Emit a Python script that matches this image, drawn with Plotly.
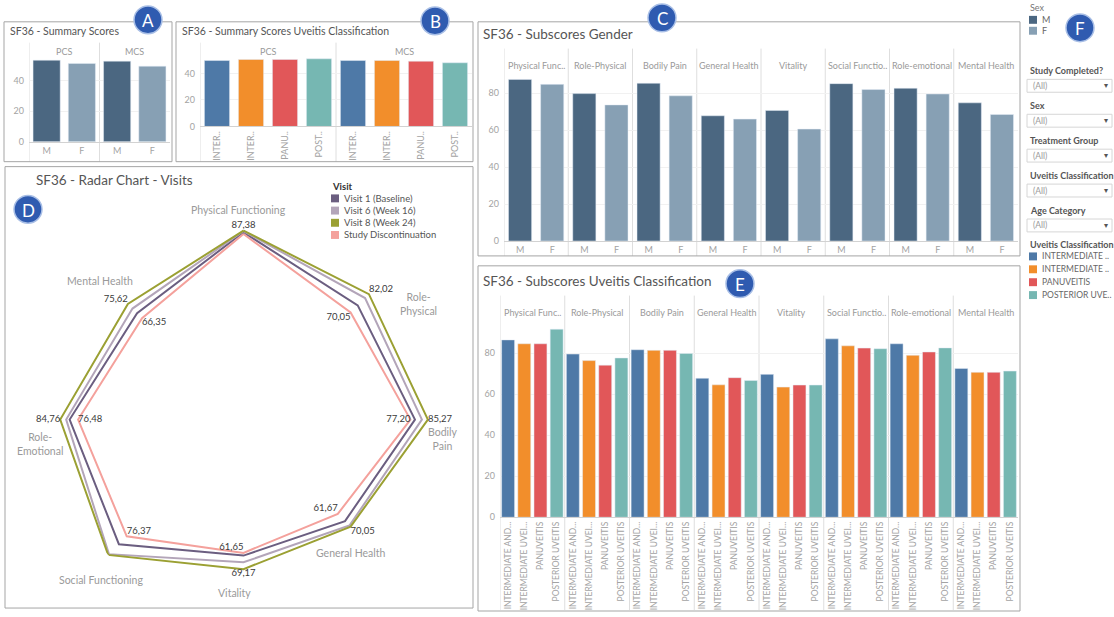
import plotly.graph_objects as go

W, H = 1114, 617


def px(x):
    return x / W


def py(y):
    return 1 - y / H


FONT = "Lato"

# ---------------- data ----------------
sexes = ["M", "F"]
summary_scales = ["PCS", "MCS"]
summary_m = [53.1, 52.5]          # PCS, MCS
summary_f = [51.0, 49.2]

uveitis_groups = ["INTERMEDIATE AND POSTERIOR UVEITIS", "INTERMEDIATE UVEITIS",
                  "PANUVEITIS", "POSTERIOR UVEITIS"]
uveitis_short = ["INTER..", "INTER..", "PANU..", "POST.."]
uveitis_tick = ["INTERMEDIATE AND…", "INTERMEDIATE UVEI…", "PANUVEITIS", "POSTERIOR UVEITIS"]
uveitis_legend = ["INTERMEDIATE ..", "INTERMEDIATE ..", "PANUVEITIS", "POSTERIOR UVE.."]
summary_uveitis_pcs = [49.8, 50.6, 50.6, 51.1]
summary_uveitis_mcs = [49.8, 49.8, 49.3, 48.1]

subscales = ["Physical Functioning", "Role-Physical", "Bodily Pain", "General Health",
             "Vitality", "Social Functioning", "Role-emotional", "Mental Health"]
subscale_headers = ["Physical Func..", "Role-Physical", "Bodily Pain", "General Health",
                    "Vitality", "Social Functio..", "Role-emotional", "Mental Health"]
subscores_m = [87.5, 79.8, 85.4, 67.8, 70.7, 85.2, 82.7, 74.8]
subscores_f = [84.8, 73.7, 78.6, 66.0, 60.6, 82.0, 79.6, 68.5]

subscores_int_post = [86.4, 79.5, 81.6, 67.7, 69.6, 86.9, 84.5, 72.5]
subscores_intermediate = [84.5, 76.3, 81.3, 64.5, 63.4, 83.5, 78.9, 70.6]
subscores_panuveitis = [84.5, 74.1, 81.3, 68.0, 64.4, 82.4, 80.5, 70.6]
subscores_posterior = [91.6, 77.6, 79.8, 66.6, 64.4, 82.1, 82.5, 71.2]
subscores_uveitis = [subscores_int_post, subscores_intermediate,
                     subscores_panuveitis, subscores_posterior]

radar_axes = ["Physical Functioning", "Role-Physical", "Bodily Pain", "General Health",
              "Vitality", "Social Functioning", "Role-Emotional", "Mental Health"]
visit_names = ["Visit 1 (Baseline)", "Visit 6 (Week 16)", "Visit 8 (Week 24)",
               "Study Discontinuation"]
visit1 = [86.6, 74.7, 79.3, 66.4, 62.9, 81.5, 80.4, 69.6]
visit6 = [87.2, 79.5, 82.5, 69.3, 66.0, 88.0, 82.0, 72.6]
visit8 = [87.38, 82.02, 85.27, 70.05, 69.17, 88.54, 84.76, 75.62]
discontinuation = [85.8, 70.05, 77.20, 61.67, 61.65, 76.37, 76.48, 66.35]

filter_titles = ["Study Completed?", "Sex", "Treatment Group", "Uveitis Classification",
                 "Age Category"]

# ---------------- styles ----------------
sex_colors = {"M": "#4b6781", "F": "#87a0b4"}
uveitis_colors = ["#4e79a7", "#f28e2b", "#e15759", "#76b7b2"]
visit_colors = ["#6b5e80", "#b3a5b9", "#9ba033", "#f4a19c"]
TICK_GRAY = "#a3a3a3"
LABEL_GRAY = "#9a9a9a"
DIVIDER = "#dedede"

fig = go.Figure()
shapes = []
annotations = []


def note(x, y, text, size=9, color="#555", anchor="left", bold=False, family=FONT, **kw):
    if bold:
        text = f"<b>{text}</b>"
    annotations.append(dict(x=px(x), y=py(y), xref="paper", yref="paper", text=text,
                            showarrow=False, xanchor=anchor, yanchor="middle",
                            font=dict(size=size, color=color, family=family), **kw))


def box(x0, y0, x1, y1, color="#a5a5a5", width=1, fill=None):
    shapes.append(dict(type="rect", xref="paper", yref="paper", x0=px(x0), x1=px(x1),
                       y0=py(y1), y1=py(y0), line=dict(color=color, width=width),
                       fillcolor=fill if fill else "rgba(0,0,0,0)", layer="below"))


def badge(cx, cy, letter, r=14):
    shapes.append(dict(type="circle", xref="paper", yref="paper",
                       x0=px(cx - r), x1=px(cx + r), y0=py(cy + r), y1=py(cy - r),
                       fillcolor="#2f5bb0", line=dict(color="#a9bfe6", width=1.5),
                       layer="above"))
    note(cx, cy + 1, letter, size=17, color="white", anchor="center")


def dividers(xref, positions, top, bottom):
    for xv in positions:
        shapes.append(dict(type="line", xref=xref, yref="paper", x0=xv, x1=xv,
                           y0=py(bottom), y1=py(top), line=dict(color=DIVIDER, width=1),
                           layer="below"))


def headers(xref, centers, labels, y, size=9):
    for xv, lab in zip(centers, labels):
        annotations.append(dict(x=xv, y=py(y), xref=xref, yref="paper", text=lab,
                                showarrow=False, xanchor="center", yanchor="middle",
                                font=dict(size=size, color=LABEL_GRAY, family=FONT)))


# ---------------- A: summary scores by sex ----------------
a_keys = [f"{s}|{x}" for s in summary_scales for x in sexes]
for sex, vals in zip(sexes, [summary_m, summary_f]):
    fig.add_trace(go.Bar(x=[f"{s}|{sex}" for s in summary_scales], y=vals,
                         marker_color=sex_colors[sex], width=0.77, name=sex,
                         showlegend=False, xaxis="x", yaxis="y"))
headers("x", [0.5, 2.5], summary_scales, 52)
dividers("x", [-0.5, 1.5], 43, 163)

# ---------------- B: summary scores by uveitis classification ----------------
b_keys = [f"{s}|{g}" for s in summary_scales for g in uveitis_groups]
for i, g in enumerate(uveitis_groups):
    fig.add_trace(go.Bar(x=[f"{s}|{g}" for s in summary_scales],
                         y=[summary_uveitis_pcs[i], summary_uveitis_mcs[i]],
                         marker_color=uveitis_colors[i], width=0.74, name=g,
                         showlegend=False, xaxis="x2", yaxis="y2"))
headers("x2", [1.5, 5.5], summary_scales, 52)
dividers("x2", [-0.5, 3.5], 43, 163)

# ---------------- C: subscores by sex ----------------
c_keys = [f"{s}|{x}" for s in subscales for x in sexes]
for sex, vals in zip(sexes, [subscores_m, subscores_f]):
    fig.add_trace(go.Bar(x=[f"{s}|{sex}" for s in subscales], y=vals,
                         marker_color=sex_colors[sex], width=0.72, name=sex,
                         showlegend=False, xaxis="x3", yaxis="y3"))
headers("x3", [2 * i + 0.5 for i in range(len(subscales))], subscale_headers, 66)
dividers("x3", [2 * i - 0.5 for i in range(len(subscales))], 49, 258)

# ---------------- E: subscores by uveitis classification ----------------
e_keys = [f"{s}|{g}" for s in subscales for g in uveitis_groups]
for i, g in enumerate(uveitis_groups):
    fig.add_trace(go.Bar(x=[f"{s}|{g}" for s in subscales], y=subscores_uveitis[i],
                         marker_color=uveitis_colors[i], width=0.8, name=g,
                         showlegend=False, xaxis="x4", yaxis="y4"))
headers("x4", [4 * i + 1.5 for i in range(len(subscales))], subscale_headers, 315)
dividers("x4", [4 * i - 0.5 for i in range(len(subscales))], 298, 615)

# ---------------- D: radar chart of visits ----------------
def fmt(v):
    return f"{v:.2f}".replace(".", ",")


visit8_pos = ["top center", "top right", "middle right", "bottom right",
              "bottom center", "bottom right", "middle left", "top left"]
disc_pos = ["top center", "bottom left", "middle left", "top left",
            "top left", "top right", "middle right", "bottom right"]
radar_series = [visit1, visit6, visit8, discontinuation]
for name, vals, col in zip(visit_names, radar_series, visit_colors):
    if vals is visit8:
        text = [fmt(v) for v in vals] + [""]
        pos = visit8_pos + ["top center"]
    elif vals is discontinuation:
        text = [""] + [fmt(v) for v in vals[1:]] + [""]
        pos = disc_pos + ["top center"]
    else:
        text = [""] * (len(vals) + 1)
        pos = ["top center"] * (len(vals) + 1)
    fig.add_trace(go.Scatterpolar(r=vals + vals[:1], theta=radar_axes + radar_axes[:1],
                                  mode="lines+text", line=dict(color=col, width=2),
                                  text=text, textposition=pos, cliponaxis=False,
                                  textfont=dict(size=9.5, color="#3a3a3a", family=FONT),
                                  name=name, showlegend=False))

radar_cx, radar_cy, radar_R = 243.5, 423, 193
radar_px_per_unit = 2.18

# radar axis names
for lab, (lx, ly) in zip(["Physical Functioning", "Role-<br>Physical", "Bodily<br>Pain",
                          "General Health", "Vitality", "Social Functioning",
                          "Role-<br>Emotional", "Mental Health"],
                         [(238, 212), (418, 306), (443, 443), (351, 558), (234, 598),
                          (101, 585), (40, 448), (100, 283)]):
    note(lx, ly, lab, size=10.5, color=LABEL_GRAY, anchor="center")

# radar legend
note(330, 188, "Visit", size=9.5, color="#333", bold=True)
for i, (name, col) in enumerate(zip(visit_names, visit_colors)):
    yy = 200 + i * 12.3
    shapes.append(dict(type="rect", xref="paper", yref="paper", x0=px(331), x1=px(339),
                       y0=py(yy + 4), y1=py(yy - 4), fillcolor=col, line=dict(width=0)))
    note(342, yy, name, size=9.5, color="#555")

# ---------------- panel frames and titles ----------------
box(4, 22, 172, 163)
box(176, 22, 473, 163)
box(5, 168, 473, 613)
box(478, 22, 1020, 258)
box(478, 268, 1020, 616)

note(8, 31, "SF36 - Summary Scores", size=10.5, color="#555")
note(180, 31, "SF36 - Summary Scores Uveitis Classification", size=10.5, color="#555")
note(34, 181, "SF36 - Radar Chart - Visits", size=13.5, color="#555")
note(481, 34, "SF36 - Subscores Gender", size=13.5, color="#555")
note(481, 283, "SF36 - Subscores Uveitis Classification", size=13.5, color="#555")

# ---------------- sidebar: legends and filters ----------------
note(1028, 8, "Sex", size=9, color="#777")
for i, sex in enumerate(sexes):
    yy = 20 + i * 11
    shapes.append(dict(type="rect", xref="paper", yref="paper", x0=px(1029), x1=px(1037),
                       y0=py(yy + 4), y1=py(yy - 4), fillcolor=sex_colors[sex],
                       line=dict(width=0)))
    note(1040, yy, sex, size=9, color="#666")

for i, title in enumerate(filter_titles):
    ty = 71 + i * 35.2
    note(1028, ty, title, size=9, color="#555", bold=True)
    box(1027, ty + 9, 1112, ty + 22, color="#d6d6d6")
    note(1031, ty + 15.5, "(All)", size=8.5, color="#9a9a9a")
    note(1106, ty + 15.5, "▾", size=8, color="#555", anchor="center", family="DejaVu Sans")

note(1028, 246, "Uveitis Classification", size=9, color="#555", bold=True)
for i, (lab, col) in enumerate(zip(uveitis_legend, uveitis_colors)):
    yy = 258.5 + i * 13
    shapes.append(dict(type="rect", xref="paper", yref="paper", x0=px(1029), x1=px(1037),
                       y0=py(yy + 4), y1=py(yy - 4), fillcolor=col, line=dict(width=0)))
    note(1040, yy, lab, size=8.5, color="#666")

# ---------------- badges ----------------
badge(148, 20, "A")
badge(435, 21, "B")
badge(662, 18, "C")
badge(28, 211, "D")
badge(740, 286, "E")
badge(1080, 28, "F")

# ---------------- axes ----------------
xbase = dict(type="category", showgrid=False, zeroline=False, showline=True,
             linecolor="#d2d2d2", linewidth=1, ticks="", fixedrange=True,
             tickfont=dict(size=9, color=TICK_GRAY, family=FONT), tickmode="array",
             categoryorder="array")
ybase = dict(showgrid=True, gridcolor="#f1f1f1", zeroline=False, showline=False,
             ticks="", fixedrange=True, tickmode="array", ticklabelstandoff=4,
             tickfont=dict(size=9, color=TICK_GRAY, family=FONT))

a_top, a_base, a_scale = 57, 143, 1.55
b_top, b_base, b_scale = 57, 127.5, 1.335
c_top, c_base, c_scale = 74, 243, 1.8625
e_top, e_base, e_scale = 326, 521.5, 2.07

fig.update_layout(
    width=W, height=617, autosize=False,
    margin=dict(l=0, r=0, t=0, b=0),
    paper_bgcolor="white", plot_bgcolor="white",
    barmode="overlay", showlegend=False,
    font=dict(family=FONT),
    xaxis=dict(xbase, domain=[px(29), px(170)], anchor="y", categoryarray=a_keys,
               tickvals=a_keys, ticktext=[k.split("|")[1] for k in a_keys],
               range=[-0.5, len(a_keys) - 0.5]),
    yaxis=dict(ybase, domain=[py(a_base), py(a_top)], anchor="x",
               range=[0, (a_base - a_top) / a_scale], tickvals=[0, 20, 40]),
    xaxis2=dict(xbase, domain=[px(200), px(472)], anchor="y2", categoryarray=b_keys,
                tickvals=b_keys, ticktext=uveitis_short * 2, tickangle=-90,
                range=[-0.5, len(b_keys) - 0.5]),
    yaxis2=dict(ybase, domain=[py(b_base), py(b_top)], anchor="x2",
                range=[0, (b_base - b_top) / b_scale], tickvals=[0, 20, 40]),
    xaxis3=dict(xbase, domain=[px(504), px(1018)], anchor="y3", categoryarray=c_keys,
                tickvals=c_keys, ticktext=[k.split("|")[1] for k in c_keys],
                range=[-0.5, len(c_keys) - 0.5]),
    yaxis3=dict(ybase, domain=[py(c_base), py(c_top)], anchor="x3",
                range=[0, (c_base - c_top) / c_scale], tickvals=[0, 20, 40, 60, 80]),
    xaxis4=dict(xbase, domain=[px(500), px(1018)], anchor="y4", categoryarray=e_keys,
                tickvals=e_keys, ticktext=uveitis_tick * len(subscales), tickangle=-90,
                tickfont=dict(size=8.5, color=TICK_GRAY, family=FONT),
                range=[-0.5, len(e_keys) - 0.5]),
    yaxis4=dict(ybase, domain=[py(e_base), py(e_top)], anchor="x4",
                range=[0, (e_base - e_top) / e_scale], tickvals=[0, 20, 40, 60, 80]),
    polar=dict(
        domain=dict(x=[px(radar_cx - radar_R), px(radar_cx + radar_R)],
                    y=[py(radar_cy + radar_R), py(radar_cy - radar_R)]),
        bgcolor="rgba(0,0,0,0)",
        radialaxis=dict(range=[0, radar_R / radar_px_per_unit], visible=False),
        angularaxis=dict(rotation=90, direction="clockwise", visible=False,
                         categoryorder="array", categoryarray=radar_axes),
    ),
    shapes=shapes,
    annotations=annotations,
)

fig.write_html("out.html")
